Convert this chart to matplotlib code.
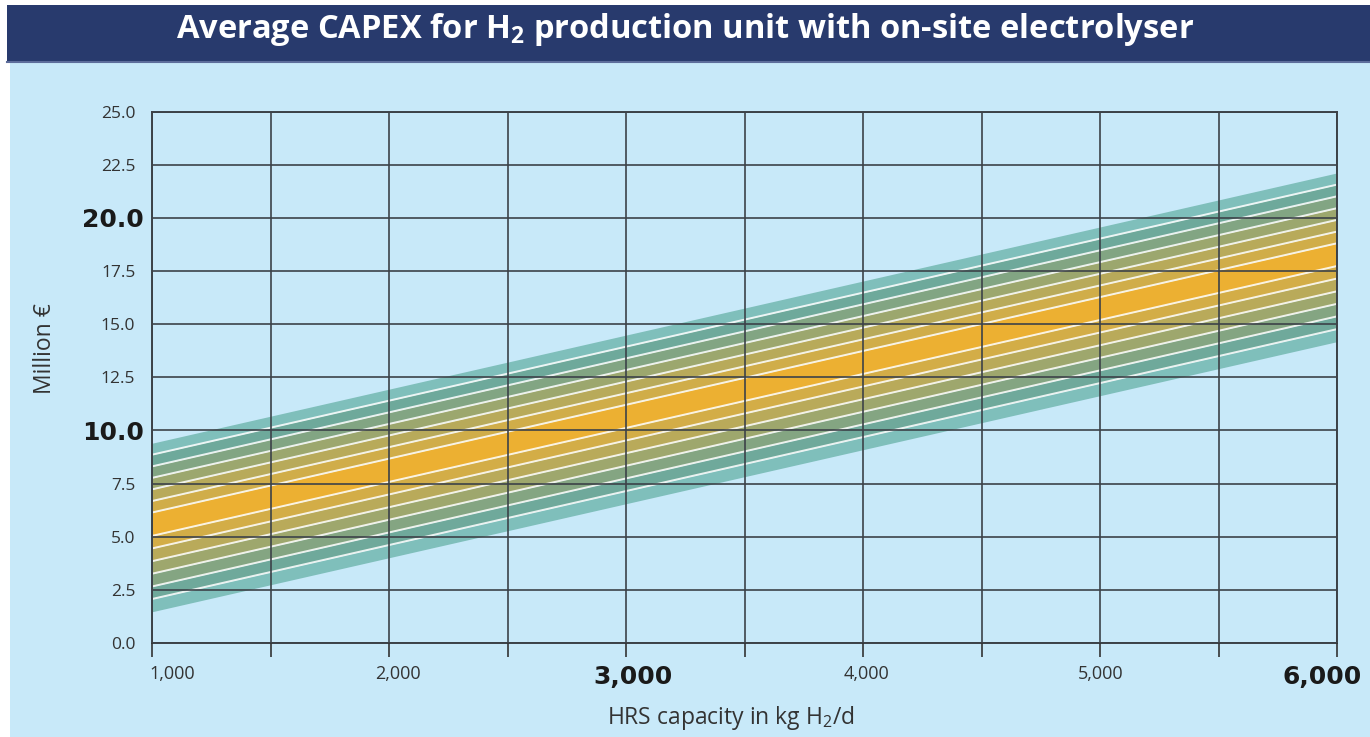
import matplotlib
matplotlib.use('Agg')
import matplotlib.pyplot as plt
import matplotlib.transforms as mtransforms
from matplotlib.patches import Rectangle
from matplotlib.lines import Line2D

plt.rcParams['font.family'] = ['Open Sans', 'DejaVu Sans']

# --------------Data-------------------------------------------------------------
capacity = [1000, 6000]

# band edges (million EUR), top to bottom, read at 1,000 and 6,000 kg/d
edges_at_1000 = [9.40, 8.86, 8.31, 7.77, 7.23, 6.68, 6.14, 5.04, 4.45, 3.85, 3.26, 2.66, 2.07, 1.47]
edges_at_6000 = [22.12, 21.57, 21.02, 20.46, 19.91, 19.36, 18.81, 17.74, 17.15, 16.55, 15.96, 15.37, 14.77, 14.18]

y_ticks = [0, 2.5, 5, 7.5, 10, 12.5, 15, 17.5, 20, 22.5, 25]
y_labels = ['0.0', '2.5', '5.0', '7.5', '10.0', '12.5', '15.0', '17.5', '20.0', '22.5', '25.0']
y_bold = ['10.0', '20.0']

x_ticks = [1000, 2000, 3000, 4000, 5000, 6000]
x_labels = ['1,000', '2,000', '3,000', '4,000', '5,000', '6,000']
x_bold = ['3,000', '6,000']
x_minor = [1500, 2500, 3500, 4500, 5500]

# --------------Styles-----------------------------------------------------------
band_colors = ['#7fbfbb', '#6ea99b', '#82a583', '#9ca76e', '#b8aa5a', '#d0ad49',
               '#ecb032',
               '#d3ad47', '#b9aa5a', '#9ea76d', '#84a582', '#6fa99b', '#7fbfbb']
grid_col = '#3c4248'
text_col = '#333333'
# horizontal nudge of the x tick labels, in pixels (as in the original layout)
x_label_nudge = [20, 9, 7, 3, 1, -15]

# --------------Figure-----------------------------------------------------------
fig = plt.figure(figsize=(13.7, 7.37), dpi=100)
fig.patch.set_facecolor('white')

fig.patches.append(Rectangle((10 / 1370, 0), 1, 675 / 737, transform=fig.transFigure,
                             facecolor='#c8e9f9', edgecolor='none', zorder=-5))
fig.patches.append(Rectangle((7 / 1370, 675 / 737), 1, 57 / 737, transform=fig.transFigure,
                             facecolor='#283a6d', edgecolor='none', zorder=-5))
fig.add_artist(Line2D([7 / 1370, 1], [675 / 737, 675 / 737], transform=fig.transFigure,
                      color='#5d6d9b', lw=1.5, zorder=-4))

fig.text(685 / 1370, 1 - 29 / 737,
         'Average CAPEX for H$\\mathregular{_2}$ production unit with on-site electrolyser',
         color='white', fontsize=23.5, fontweight='bold', ha='center', va='center')

ax = fig.add_axes([152 / 1370, 94 / 737, 1185 / 1370, 531.3 / 737])
ax.set_facecolor('none')
ax.set_zorder(2)

# bands
for i in range(len(edges_at_1000) - 1):
    ax.fill_between(capacity, [edges_at_1000[i], edges_at_6000[i]],
                    [edges_at_1000[i + 1], edges_at_6000[i + 1]],
                    color=band_colors[i], linewidth=0, zorder=1)
for i in range(1, len(edges_at_1000) - 1):
    ax.plot(capacity, [edges_at_1000[i], edges_at_6000[i]], color='white', lw=1.4,
            alpha=0.85, zorder=2, solid_capstyle='butt')

ax.set_xlim(1000, 6000)
ax.set_ylim(0, 25)

ax.set_xticks(x_ticks, labels=x_labels)
ax.set_xticks(x_minor, minor=True)
ax.set_yticks(y_ticks, labels=y_labels)

ax.grid(True, which='both', axis='x', color=grid_col, lw=1.4, alpha=0.85)
ax.grid(True, which='major', axis='y', color=grid_col, lw=1.4, alpha=0.85)
ax.set_axisbelow(False)

for s in ax.spines.values():
    s.set_color(grid_col)
    s.set_linewidth(1.4)

ax.tick_params(axis='x', which='both', direction='out', length=10, width=1.2,
               color='#333333', pad=6, labelsize=13, labelcolor=text_col)
ax.tick_params(axis='y', which='both', length=0, pad=12, labelsize=12.5,
               labelcolor=text_col)

for lab, dx in zip(ax.get_xticklabels(), x_label_nudge):
    if lab.get_text() in x_bold:
        lab.set_fontfamily('DejaVu Sans')
        lab.set_fontweight('bold')
        lab.set_fontsize(18)
        lab.set_color('#1a1a1a')
    nudge = mtransforms.ScaledTranslation(dx / 100, 0, fig.dpi_scale_trans)
    lab.set_transform(lab.get_transform() + nudge)

shift = mtransforms.ScaledTranslation(6 / 72, 0, fig.dpi_scale_trans)
for lab in ax.get_yticklabels():
    if lab.get_text() in y_bold:
        lab.set_fontfamily('DejaVu Sans')
        lab.set_fontweight('bold')
        lab.set_fontsize(18)
        lab.set_color('#1a1a1a')
        lab.set_transform(lab.get_transform() + shift)

fig.text(45 / 1370, 1 - 349 / 737, 'Million €', rotation=90, ha='center', va='center',
         fontsize=16.5, color=text_col)
fig.text(731 / 1370, 1 - 718 / 737, 'HRS capacity in kg H$\\mathregular{_2}$/d',
         ha='center', va='center', fontsize=16.5, color=text_col)

fig.savefig('out.png', dpi=100)
